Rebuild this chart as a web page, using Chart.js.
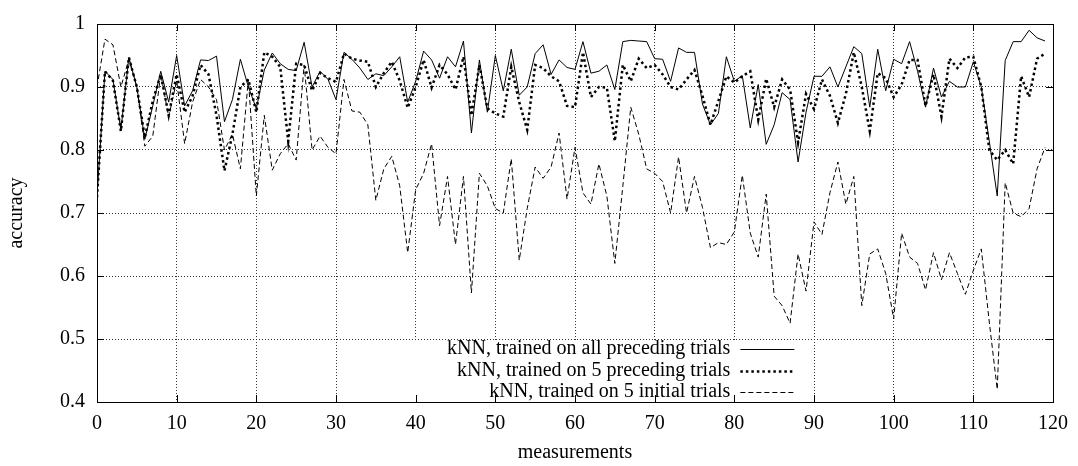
<!DOCTYPE html>
<html>
<head>
<meta charset="utf-8">
<script src="https://cdn.jsdelivr.net/npm/chart.js@4.4.1/dist/chart.umd.min.js"></script>
<style>
  body { margin: 0; background: #fff; }
</style>
</head>
<body>
<canvas id="accChart" width="1078" height="466"></canvas>
<script>
let allPreceding = [
  0.725, 0.925, 0.912, 0.832, 0.947, 0.900, 0.817, 0.870, 0.925, 0.876,
  0.950, 0.870, 0.894, 0.943, 0.942, 0.949, 0.845, 0.880, 0.944, 0.900,
  0.866, 0.927, 0.954, 0.937, 0.928, 0.926, 0.971, 0.900, 0.925, 0.912,
  0.880, 0.955, 0.944, 0.930, 0.912, 0.921, 0.918, 0.932, 0.948, 0.876,
  0.909, 0.957, 0.943, 0.914, 0.948, 0.932, 0.973, 0.827, 0.943, 0.860,
  0.950, 0.894, 0.960, 0.887, 0.900, 0.953, 0.967, 0.920, 0.943, 0.931,
  0.928, 0.972, 0.922, 0.925, 0.935, 0.896, 0.972, 0.974, 0.973, 0.972,
  0.945, 0.944, 0.909, 0.962, 0.955, 0.955, 0.873, 0.840, 0.858, 0.948,
  0.909, 0.918, 0.835, 0.904, 0.809, 0.840, 0.891, 0.880, 0.781, 0.860,
  0.917, 0.917, 0.932, 0.900, 0.932, 0.964, 0.953, 0.868, 0.960, 0.894,
  0.944, 0.937, 0.972, 0.925, 0.868, 0.930, 0.884, 0.909, 0.900, 0.900,
  0.940, 0.900, 0.814, 0.727, 0.942, 0.972, 0.972, 0.990, 0.978, 0.973
];
let fivePreceding = [
  0.725, 0.925, 0.910, 0.830, 0.947, 0.900, 0.820, 0.878, 0.920, 0.855,
  0.920, 0.860, 0.886, 0.935, 0.920, 0.855, 0.767, 0.825, 0.900, 0.912,
  0.860, 0.955, 0.948, 0.932, 0.814, 0.937, 0.935, 0.894, 0.922, 0.914,
  0.908, 0.953, 0.945, 0.942, 0.940, 0.900, 0.922, 0.940, 0.910, 0.867,
  0.900, 0.943, 0.899, 0.935, 0.920, 0.896, 0.948, 0.855, 0.935, 0.866,
  0.858, 0.853, 0.932, 0.876, 0.832, 0.935, 0.930, 0.917, 0.909, 0.870,
  0.868, 0.955, 0.884, 0.900, 0.899, 0.814, 0.935, 0.909, 0.945, 0.930,
  0.935, 0.920, 0.900, 0.896, 0.912, 0.927, 0.886, 0.840, 0.878, 0.917,
  0.907, 0.917, 0.925, 0.848, 0.913, 0.868, 0.912, 0.896, 0.812, 0.889,
  0.865, 0.912, 0.886, 0.843, 0.889, 0.955, 0.900, 0.830, 0.922, 0.914,
  0.884, 0.904, 0.943, 0.943, 0.870, 0.920, 0.853, 0.945, 0.930, 0.947,
  0.948, 0.900, 0.800, 0.784, 0.800, 0.778, 0.917, 0.884, 0.945, 0.953
];
let fiveInitial = [
  0.900, 0.976, 0.967, 0.900, 0.944, 0.900, 0.806, 0.822, 0.920, 0.853,
  0.910, 0.810, 0.876, 0.912, 0.900, 0.880, 0.800, 0.825, 0.770, 0.912,
  0.727, 0.855, 0.768, 0.794, 0.810, 0.784, 0.935, 0.800, 0.822, 0.804,
  0.794, 0.912, 0.862, 0.860, 0.840, 0.720, 0.770, 0.790, 0.743, 0.637,
  0.737, 0.763, 0.810, 0.680, 0.758, 0.650, 0.758, 0.573, 0.763, 0.743,
  0.707, 0.700, 0.786, 0.625, 0.707, 0.773, 0.755, 0.773, 0.827, 0.722,
  0.804, 0.732, 0.714, 0.778, 0.727, 0.620, 0.742, 0.868, 0.825, 0.770,
  0.763, 0.750, 0.700, 0.789, 0.700, 0.758, 0.709, 0.645, 0.653, 0.650,
  0.670, 0.760, 0.668, 0.630, 0.730, 0.568, 0.553, 0.525, 0.635, 0.576,
  0.686, 0.666, 0.732, 0.781, 0.714, 0.758, 0.553, 0.635, 0.643, 0.604,
  0.532, 0.668, 0.630, 0.620, 0.578, 0.637, 0.594, 0.637, 0.604, 0.571,
  0.609, 0.643, 0.527, 0.420, 0.748, 0.700, 0.694, 0.707, 0.770, 0.804
];
let measurements = allPreceding.map((v, i) => i);
let seriesNames = [
  'kNN, trained on all preceding trials',
  'kNN, trained on 5 preceding trials',
  'kNN, trained on 5 initial trials'
];
let xTicks = [0, 10, 20, 30, 40, 50, 60, 70, 80, 90, 100, 110, 120];
let yTicks = [0.4, 0.5, 0.6, 0.7, 0.8, 0.9, 1];

let serif = { family: "'Liberation Serif', 'DejaVu Serif', serif", size: 20 };

function toPoints(values) {
    return values.map((v, i) => ({ x: measurements[i], y: v }));
}

// gnuplot look: closed frame, inward ticks, opaque key
let gnuplotFrame = {
    id: 'gnuplotFrame',
    afterDraw(chart) {
        let ctx = chart.ctx;
        let a = chart.chartArea;
        let xs = chart.scales.x;
        let ys = chart.scales.y;
        let px = v => Math.round(v) + 0.5;
        ctx.save();
        ctx.strokeStyle = '#000';
        ctx.lineWidth = 1;
        ctx.setLineDash([]);

        // key
        let rowY = [a.bottom - 53, a.bottom - 31.5, a.bottom - 10];
        let textRight = xs.getPixelForValue(79.5);
        ctx.fillStyle = '#fff';
        ctx.fillRect(xs.getPixelForValue(39.3), a.bottom - 62, xs.getPixelForValue(89.4) - xs.getPixelForValue(39.3), 61);
        ctx.fillStyle = '#000';
        ctx.font = serif.size + 'px ' + serif.family;
        ctx.textAlign = 'right';
        ctx.textBaseline = 'middle';
        chart.data.datasets.forEach((ds, k) => {
            ctx.fillText(ds.label, textRight, rowY[k]);
            ctx.save();
            ctx.lineWidth = ds.borderWidth;
            ctx.setLineDash(ds.borderDash || []);
            ctx.beginPath();
            ctx.moveTo(textRight + 10, px(rowY[k]));
            ctx.lineTo(textRight + 64, px(rowY[k]));
            ctx.stroke();
            ctx.restore();
        });

        // frame
        ctx.strokeRect(px(a.left), px(a.top), Math.round(a.right) - Math.round(a.left), Math.round(a.bottom) - Math.round(a.top));
        ctx.beginPath();
        xTicks.forEach(t => {
            let x = px(xs.getPixelForValue(t));
            ctx.moveTo(x, a.bottom); ctx.lineTo(x, a.bottom - 7);
            ctx.moveTo(x, a.top); ctx.lineTo(x, a.top + 7);
        });
        yTicks.forEach(t => {
            let y = px(ys.getPixelForValue(t));
            ctx.moveTo(a.left, y); ctx.lineTo(a.left + 7, y);
            ctx.moveTo(a.right, y); ctx.lineTo(a.right - 7, y);
        });
        ctx.stroke();
        ctx.restore();
    }
};

let accCtx = document.getElementById('accChart').getContext('2d');
let accChart = new Chart(accCtx, {
    type: 'line',
    data: {
        datasets: [{
            label: seriesNames[0],
            data: toPoints(allPreceding),
            borderColor: '#000',
            borderWidth: 1,
            order: 3
        }, {
            label: seriesNames[1],
            data: toPoints(fivePreceding),
            borderColor: '#000',
            borderWidth: 2.5,
            borderDash: [2.5, 3],
            order: 2
        }, {
            label: seriesNames[2],
            data: toPoints(fiveInitial),
            borderColor: '#000',
            borderWidth: 1,
            borderDash: [5, 3],
            order: 1
        }]
    },
    options: {
        responsive: false,
        animation: false,
        layout: { padding: { top: 13, right: 21, left: 0, bottom: 0 } },
        elements: {
            point: { radius: 0 },
            line: { tension: 0, fill: false }
        },
        plugins: {
            legend: { display: false },
            tooltip: { enabled: false }
        },
        scales: {
            x: {
                type: 'linear',
                min: 0,
                max: 120,
                afterFit: s => { s.height = 64; },
                afterBuildTicks: s => { s.ticks = xTicks.map(v => ({ value: v })); },
                ticks: { color: '#000', font: serif, padding: 10, maxRotation: 0, autoSkip: false },
                grid: { color: '#333', lineWidth: 1, drawTicks: false },
                border: { display: false, dash: [1, 2] },
                title: { display: true, text: 'measurements', color: '#000', font: serif, padding: { top: 0, bottom: 1 } }
            },
            y: {
                min: 0.4,
                max: 1,
                afterFit: s => { s.width = 97; },
                afterBuildTicks: s => { s.ticks = yTicks.map(v => ({ value: v })); },
                ticks: { color: '#000', font: serif, padding: 12, callback: v => String(Math.round(v * 10) / 10) },
                grid: { color: '#333', lineWidth: 1, drawTicks: false },
                border: { display: false, dash: [1, 2] },
                title: { display: true, text: 'accuracy', color: '#000', font: serif, padding: { top: 5, bottom: 0 } }
            }
        }
    },
    plugins: [gnuplotFrame]
});
</script>
</body>
</html>
